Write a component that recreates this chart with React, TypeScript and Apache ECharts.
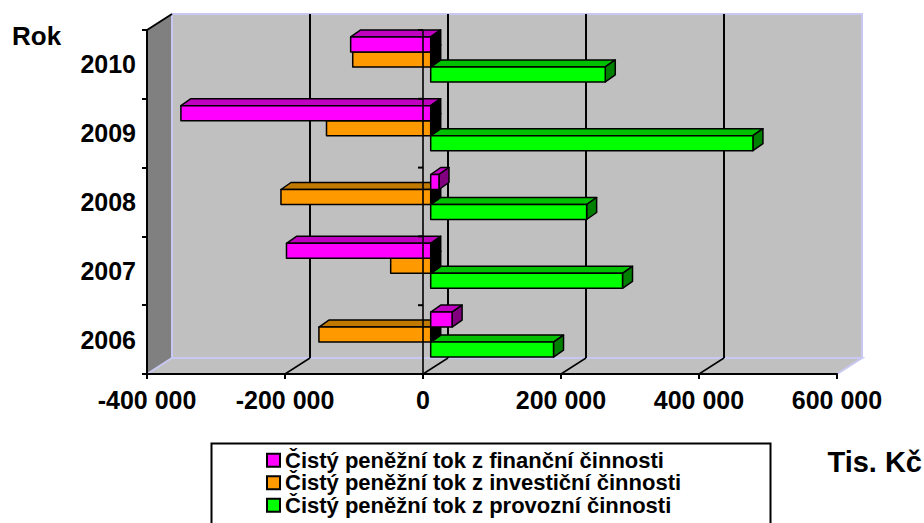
import React, { useEffect, useRef } from 'react';
import * as echarts from 'echarts';

// ---- data ----
const categories = ['2006', '2007', '2008', '2009', '2010'];
const seriesNames = [
  'Čistý peněžní tok z finanční činnosti',
  'Čistý peněžní tok z investiční činnosti',
  'Čistý peněžní tok z provozní činnosti',
];
const financni = [31000, -209000, 12000, -362000, -116000];
const investicni = [-162000, -58000, -217000, -151000, -113000];
const provozni = [178000, 278000, 226000, 467000, 253000];
const xTickValues = [-400000, -200000, 0, 200000, 400000, 600000];
const yAxisTitle = 'Rok';
const xAxisTitle = 'Tis. Kč';

// ---- styling ----
const FONT = "'Liberation Sans', Arial, Helvetica, sans-serif";
const WALL = { dx: 25, dy: -16 };
const BAR = { ox: 7.7, oy: -5.0, dx: 10, dy: -7, frac: 0.218 };
const LAVENDER = '#c8c8f2';

const STYLES = [
  { front: '#ff00ff', top: '#c000c0', side: '#800080' },
  { front: '#ff9900', top: '#c07a00', side: '#805000' },
  { front: '#00ff00', top: '#00c000', side: '#008000' },
];

function fmt(v: number): string {
  const s = Math.abs(v).toString().replace(/\B(?=(\d{3})+(?!\d))/g, ' ');
  return (v < 0 ? '-' : '') + s;
}

function barRender(slot: number) {
  const st = STYLES[slot];
  return (params: any, api: any) => {
    const cat = api.value(1);
    const v = api.value(0);
    const c0 = api.coord([0, cat]);
    const c1 = api.coord([v, cat]);
    const band = api.size([0, 1])[1];
    const h = band * BAR.frac;
    const yT = c0[1] - 1.5 * h + slot * h + BAR.oy;
    const yB = yT + h;
    const xa = Math.min(c0[0], c1[0]) + BAR.ox;
    const xb = Math.max(c0[0], c1[0]) + BAR.ox;
    const { dx, dy } = BAR;
    const stroke = { stroke: '#000', lineWidth: 1.5, lineJoin: 'round' };
    return {
      type: 'group',
      children: [
        {
          type: 'polygon',
          shape: { points: [[xa, yT], [xb, yT], [xb + dx, yT + dy], [xa + dx, yT + dy]] },
          style: { fill: st.top, ...stroke },
        },
        {
          type: 'polygon',
          shape: { points: [[xb, yT], [xb, yB], [xb + dx, yB + dy], [xb + dx, yT + dy]] },
          style: { fill: v < 0 ? '#000' : st.side, ...stroke },
        },
        {
          type: 'rect',
          shape: { x: xa, y: yT, width: xb - xa, height: h },
          style: { fill: st.front, ...stroke },
        },
      ],
    };
  };
}

function backgroundRender(params: any, api: any) {
  const cs = params.coordSys;
  const L = cs.x, T = cs.y, R = cs.x + cs.width, B = cs.y + cs.height;
  const { dx, dy } = WALL;
  const children: any[] = [
    {
      type: 'polygon',
      shape: { points: [[L, T], [L + dx, T + dy], [L + dx, B + dy], [L, B]] },
      style: { fill: '#808080' },
    },
    {
      type: 'rect',
      shape: { x: L + dx, y: T + dy, width: R - L, height: B - T },
      style: { fill: '#c0c0c0', stroke: LAVENDER, lineWidth: 2 },
    },
    {
      type: 'polygon',
      shape: { points: [[L, B], [L + dx, B + dy], [R + dx, B + dy], [R, B]] },
      style: { fill: '#c0c0c0', stroke: LAVENDER, lineWidth: 2 },
    },
    {
      type: 'line',
      shape: { x1: L, y1: T, x2: L + dx, y2: T + dy },
      style: { stroke: '#000', lineWidth: 2 },
    },
  ];
  xTickValues.slice(1, -1).forEach((v) => {
    const x = api.coord([v, 0])[0];
    children.push({
      type: 'rect',
      shape: { x: x + dx - 1, y: T + dy, width: 2, height: B - T },
      style: { fill: '#000' },
    });
    children.push({
      type: 'line',
      shape: { x1: x, y1: B, x2: x + dx, y2: B + dy },
      style: { stroke: '#000', lineWidth: 1.5 },
    });
  });
  return { type: 'group', children };
}

// zero line of the front plane, drawn above the bars
function zeroLineRender(params: any, api: any) {
  const cs = params.coordSys;
  const T = cs.y, B = cs.y + cs.height;
  const x0 = api.coord([0, 0])[0];
  const children: any[] = [
    {
      type: 'rect',
      shape: { x: x0 - 0.8, y: T, width: 1.6, height: B - T },
      style: { fill: '#000' },
    },
  ];
  for (let k = 0; k <= categories.length; k++) {
    const y = T + (k * cs.height) / categories.length;
    children.push({
      type: 'rect',
      shape: { x: x0 - 5, y: y - 1, width: 5, height: 2 },
      style: { fill: '#000' },
    });
  }
  return { type: 'group', children };
}

const App: React.FC = () => {
  const ref = useRef<HTMLDivElement>(null);

  useEffect(() => {
    if (!ref.current) return;
    const chart = echarts.init(ref.current, undefined, { renderer: 'svg' });
    const toData = (arr: number[]) => arr.map((v, i) => [v, i]);
    const allSeries = [financni, investicni, provozni];

    const barSeries = [2, 1, 0].map((slot) => ({
      type: 'custom',
      name: seriesNames[slot],
      coordinateSystem: 'cartesian2d',
      renderItem: barRender(slot),
      data: toData(allSeries[slot]),
      encode: { x: 0, y: 1 },
      clip: false,
      z: 6 - slot,
      itemStyle: { color: STYLES[slot].front, borderColor: '#000', borderWidth: 1 },
    }));

    chart.setOption({
      animation: false,
      backgroundColor: '#ffffff',
      grid: { left: 147, right: 87, top: 30, bottom: 149, containLabel: false },
      xAxis: {
        type: 'value',
        min: xTickValues[0],
        max: xTickValues[xTickValues.length - 1],
        interval: xTickValues[1] - xTickValues[0],
        z: 8,
        axisLine: { show: true, onZero: false, lineStyle: { color: '#000', width: 2 } },
        axisTick: { show: true, length: 5, lineStyle: { color: '#000', width: 2 } },
        axisLabel: {
          color: '#000',
          fontFamily: FONT,
          fontWeight: 'bold',
          fontSize: 25,
          margin: 13,
          formatter: (v: number) => fmt(v),
        },
        splitLine: { show: false },
      },
      yAxis: {
        type: 'category',
        data: categories,
        z: 8,
        axisLine: { show: true, onZero: false, lineStyle: { color: '#000', width: 2 } },
        axisTick: { show: true, length: 5, lineStyle: { color: '#000', width: 2 } },
        axisLabel: {
          color: '#000',
          fontFamily: FONT,
          fontWeight: 'bold',
          fontSize: 25,
          margin: 11,
        },
        splitLine: { show: false },
      },
      legend: {
        orient: 'vertical',
        left: 266,
        top: 449,
        padding: 0,
        itemWidth: 13,
        itemHeight: 13,
        itemGap: 0,
        icon: 'rect',
        data: seriesNames,
        selectedMode: false,
        textStyle: {
          color: '#000',
          fontFamily: FONT,
          fontWeight: 'bold',
          fontSize: 22,
          lineHeight: 22.5,
        },
      },
      graphic: [
        {
          type: 'rect',
          left: 209,
          top: 441,
          shape: { width: 559, height: 100 },
          style: { fill: 'none', stroke: '#000', lineWidth: 2 },
          z: 1,
        },
        {
          type: 'text',
          x: 12,
          y: 36,
          style: {
            text: yAxisTitle,
            fill: '#000',
            font: `bold 26px ${FONT}`,
            textAlign: 'left',
            textVerticalAlign: 'middle',
          },
        },
        {
          type: 'text',
          x: 922,
          y: 462,
          style: {
            text: xAxisTitle,
            fill: '#000',
            font: `bold 29px ${FONT}`,
            textAlign: 'right',
            textVerticalAlign: 'middle',
          },
        },
      ],
      series: [
        {
          type: 'custom',
          name: '__bg',
          coordinateSystem: 'cartesian2d',
          renderItem: backgroundRender,
          data: [[0, 0]],
          encode: { x: 0, y: 1 },
          clip: false,
          silent: true,
          z: 0,
        },
        ...barSeries,
        {
          type: 'custom',
          name: '__zero',
          coordinateSystem: 'cartesian2d',
          renderItem: zeroLineRender,
          data: [[0, 0]],
          encode: { x: 0, y: 1 },
          clip: false,
          silent: true,
          z: 10,
        },
      ],
    });

    return () => chart.dispose();
  }, []);

  return (
    <div
      ref={ref}
      style={{ position: 'absolute', left: 0, top: 0, width: 924, height: 523 }}
    />
  );
};

export default App;
